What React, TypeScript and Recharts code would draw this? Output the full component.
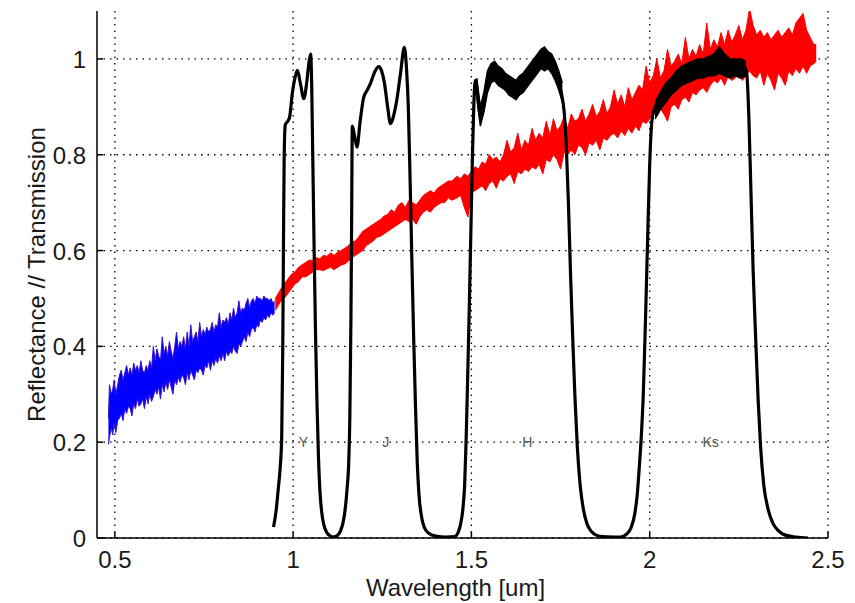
import React from 'react';
import { ComposedChart, Area, Line, XAxis, YAxis, CartesianGrid, ReferenceDot } from 'recharts';

const xTicks = [0.5, 1, 1.5, 2, 2.5];
const yTicks = [0, 0.2, 0.4, 0.6, 0.8, 1];

// [wavelength, low, high] — visible reflectance band (blue)
const blueSpectrum: [number, number, number][] = [
  [0.482, 0.195, 0.25], [0.485, 0.21, 0.32], [0.49, 0.23, 0.3], [0.494, 0.215, 0.31], [0.498, 0.24, 0.33],
  [0.503, 0.22, 0.3], [0.508, 0.245, 0.32], [0.513, 0.25, 0.34], [0.518, 0.26, 0.35], [0.523, 0.245, 0.33],
  [0.528, 0.27, 0.345], [0.533, 0.26, 0.36], [0.538, 0.275, 0.34], [0.543, 0.27, 0.355], [0.548, 0.255, 0.34],
  [0.553, 0.28, 0.365], [0.558, 0.27, 0.35], [0.563, 0.29, 0.36], [0.568, 0.275, 0.345], [0.573, 0.28, 0.37],
  [0.578, 0.29, 0.35], [0.583, 0.27, 0.345], [0.588, 0.295, 0.36], [0.593, 0.28, 0.35], [0.598, 0.3, 0.37],
  [0.603, 0.285, 0.355], [0.608, 0.295, 0.4], [0.613, 0.31, 0.37], [0.618, 0.3, 0.395], [0.623, 0.315, 0.38],
  [0.628, 0.29, 0.37], [0.633, 0.32, 0.42], [0.638, 0.305, 0.385], [0.643, 0.325, 0.4], [0.648, 0.31, 0.38],
  [0.653, 0.33, 0.41], [0.658, 0.315, 0.39], [0.663, 0.3, 0.375], [0.668, 0.33, 0.4], [0.673, 0.32, 0.43],
  [0.678, 0.335, 0.395], [0.683, 0.325, 0.41], [0.688, 0.34, 0.4], [0.693, 0.335, 0.42], [0.698, 0.32, 0.395],
  [0.703, 0.345, 0.43], [0.708, 0.33, 0.4], [0.713, 0.35, 0.445], [0.718, 0.34, 0.41], [0.723, 0.33, 0.42],
  [0.728, 0.35, 0.43], [0.733, 0.345, 0.41], [0.738, 0.355, 0.45], [0.743, 0.35, 0.42], [0.748, 0.34, 0.435],
  [0.753, 0.36, 0.425], [0.758, 0.355, 0.44], [0.763, 0.37, 0.43], [0.768, 0.35, 0.435], [0.773, 0.37, 0.45],
  [0.778, 0.36, 0.43], [0.783, 0.375, 0.445], [0.788, 0.365, 0.44], [0.793, 0.38, 0.47], [0.798, 0.37, 0.44],
  [0.803, 0.385, 0.455], [0.808, 0.37, 0.45], [0.813, 0.39, 0.46], [0.818, 0.38, 0.445], [0.823, 0.39, 0.47],
  [0.828, 0.385, 0.455], [0.833, 0.4, 0.48], [0.838, 0.39, 0.46], [0.843, 0.385, 0.47], [0.848, 0.405, 0.495],
  [0.853, 0.4, 0.47], [0.858, 0.41, 0.48], [0.863, 0.42, 0.475], [0.868, 0.41, 0.49], [0.873, 0.43, 0.5],
  [0.878, 0.42, 0.48], [0.883, 0.435, 0.495], [0.888, 0.44, 0.5], [0.893, 0.43, 0.49], [0.898, 0.445, 0.505],
  [0.903, 0.44, 0.5], [0.908, 0.455, 0.5], [0.913, 0.45, 0.495], [0.918, 0.46, 0.505], [0.923, 0.455, 0.5],
  [0.928, 0.465, 0.5], [0.933, 0.46, 0.495], [0.938, 0.47, 0.5], [0.943, 0.465, 0.49], [0.948, 0.47, 0.495],
];

// [wavelength, low, high] — near-infrared reflectance band (red)
const redSpectrum: [number, number, number][] = [
  [0.95, 0.475, 0.5], [0.958, 0.485, 0.51], [0.966, 0.495, 0.52], [0.975, 0.5, 0.53], [0.985, 0.51, 0.54],
  [0.995, 0.52, 0.55], [1.005, 0.53, 0.555], [1.015, 0.535, 0.565], [1.025, 0.545, 0.57], [1.035, 0.545, 0.575],
  [1.045, 0.55, 0.58], [1.055, 0.555, 0.58], [1.065, 0.56, 0.585], [1.075, 0.56, 0.583], [1.085, 0.558, 0.59],
  [1.095, 0.562, 0.588], [1.105, 0.565, 0.595], [1.115, 0.56, 0.59], [1.125, 0.565, 0.597], [1.135, 0.57, 0.6],
  [1.145, 0.572, 0.605], [1.155, 0.578, 0.61], [1.165, 0.585, 0.618], [1.175, 0.59, 0.62], [1.185, 0.595, 0.63],
  [1.195, 0.6, 0.64], [1.205, 0.61, 0.645], [1.215, 0.615, 0.65], [1.225, 0.62, 0.655], [1.235, 0.628, 0.66],
  [1.245, 0.63, 0.665], [1.255, 0.635, 0.672], [1.265, 0.64, 0.675], [1.275, 0.645, 0.685], [1.285, 0.65, 0.68],
  [1.295, 0.655, 0.695], [1.305, 0.66, 0.7], [1.315, 0.665, 0.69], [1.325, 0.66, 0.705], [1.335, 0.665, 0.7],
  [1.345, 0.655, 0.695], [1.355, 0.67, 0.705], [1.365, 0.68, 0.715], [1.375, 0.685, 0.72], [1.385, 0.68, 0.725],
  [1.395, 0.69, 0.72], [1.405, 0.695, 0.73], [1.415, 0.7, 0.735], [1.425, 0.7, 0.74], [1.435, 0.71, 0.745],
  [1.445, 0.705, 0.745], [1.46, 0.71, 0.755], [1.47, 0.715, 0.75], [1.48, 0.69, 0.76], [1.49, 0.67, 0.755],
  [1.5, 0.72, 0.765], [1.51, 0.725, 0.775], [1.52, 0.73, 0.77], [1.53, 0.735, 0.785], [1.54, 0.725, 0.78],
  [1.55, 0.74, 0.8], [1.56, 0.745, 0.79], [1.57, 0.73, 0.795], [1.58, 0.75, 0.785], [1.59, 0.745, 0.8],
  [1.6, 0.755, 0.83], [1.61, 0.76, 0.805], [1.62, 0.74, 0.815], [1.63, 0.765, 0.845], [1.64, 0.76, 0.81],
  [1.65, 0.77, 0.83], [1.66, 0.765, 0.82], [1.67, 0.775, 0.855], [1.68, 0.77, 0.83], [1.69, 0.78, 0.845],
  [1.7, 0.76, 0.835], [1.71, 0.79, 0.87], [1.72, 0.785, 0.84], [1.73, 0.8, 0.875], [1.74, 0.79, 0.85],
  [1.75, 0.77, 0.86], [1.76, 0.805, 0.88], [1.77, 0.8, 0.855], [1.78, 0.81, 0.885], [1.79, 0.8, 0.87],
  [1.8, 0.82, 0.875], [1.81, 0.815, 0.895], [1.82, 0.8, 0.87], [1.83, 0.825, 0.885], [1.84, 0.82, 0.905],
  [1.85, 0.83, 0.88], [1.86, 0.81, 0.89], [1.87, 0.835, 0.915], [1.88, 0.83, 0.885], [1.89, 0.84, 0.9],
  [1.9, 0.845, 0.935], [1.91, 0.835, 0.905], [1.92, 0.85, 0.925], [1.93, 0.84, 0.9], [1.94, 0.855, 0.94],
  [1.95, 0.845, 0.915], [1.96, 0.86, 0.93], [1.97, 0.85, 0.945], [1.98, 0.87, 0.935], [1.99, 0.865, 0.985],
  [2.0, 0.875, 0.95], [2.01, 0.89, 0.965], [2.02, 0.88, 1.0], [2.03, 0.895, 0.96], [2.04, 0.885, 0.975],
  [2.05, 0.87, 1.02], [2.06, 0.9, 0.985], [2.07, 0.905, 0.995], [2.08, 0.895, 1.01], [2.09, 0.915, 0.99],
  [2.1, 0.92, 1.045], [2.11, 0.91, 1.0], [2.12, 0.93, 1.02], [2.13, 0.925, 1.005], [2.14, 0.935, 1.03],
  [2.15, 0.94, 1.01], [2.16, 0.93, 1.075], [2.17, 0.945, 1.02], [2.18, 0.955, 1.04], [2.19, 0.95, 1.025],
  [2.2, 0.96, 1.055], [2.21, 0.945, 1.03], [2.22, 0.965, 1.06], [2.23, 0.955, 1.035], [2.24, 0.96, 1.05],
  [2.25, 0.97, 1.07], [2.26, 0.955, 1.04], [2.27, 0.965, 1.06], [2.28, 0.975, 1.105], [2.29, 0.965, 1.07],
  [2.3, 0.96, 1.05], [2.31, 0.975, 1.06], [2.32, 0.945, 1.045], [2.33, 0.97, 1.055], [2.34, 0.955, 1.04],
  [2.35, 0.935, 1.05], [2.36, 0.97, 1.06], [2.37, 0.96, 1.045], [2.38, 0.945, 1.055], [2.39, 0.975, 1.065],
  [2.4, 0.965, 1.05], [2.41, 0.98, 1.075], [2.42, 0.97, 1.085], [2.43, 0.985, 1.095], [2.44, 0.97, 1.06],
  [2.45, 0.985, 1.045], [2.46, 0.99, 1.03], [2.467, 0.995, 1.03],
];

// [wavelength, transmission] — filter curves
const filterYCurve: [number, number][] = [
  [0.945, 0.023], [0.952, 0.055], [0.958, 0.1], [0.964, 0.15], [0.968, 0.21], [0.971, 0.4], [0.973, 0.62],
  [0.975, 0.8], [0.978, 0.862], [0.985, 0.87], [0.99, 0.878], [0.998, 0.93], [1.005, 0.96], [1.012, 0.976],
  [1.02, 0.95], [1.03, 0.917], [1.038, 0.95], [1.044, 0.99], [1.049, 1.01], [1.052, 0.95], [1.055, 0.8],
  [1.059, 0.6], [1.063, 0.42], [1.067, 0.28], [1.071, 0.17], [1.075, 0.1], [1.08, 0.055], [1.086, 0.028],
  [1.094, 0.012], [1.105, 0.004], [1.115, 0.002],
];
const filterJCurve: [number, number][] = [
  [1.115, 0.002], [1.125, 0.006], [1.133, 0.015], [1.14, 0.032], [1.146, 0.06], [1.151, 0.1], [1.156, 0.16],
  [1.159, 0.25], [1.162, 0.45], [1.164, 0.65], [1.166, 0.86], [1.172, 0.84], [1.179, 0.816], [1.188, 0.87],
  [1.198, 0.92], [1.208, 0.935], [1.217, 0.949], [1.23, 0.975], [1.24, 0.984], [1.248, 0.975], [1.256, 0.95],
  [1.265, 0.9], [1.273, 0.865], [1.283, 0.885], [1.292, 0.92], [1.301, 0.969], [1.312, 1.024], [1.318, 0.98],
  [1.323, 0.9], [1.328, 0.75], [1.333, 0.58], [1.338, 0.42], [1.343, 0.28], [1.348, 0.16], [1.353, 0.09],
  [1.36, 0.045], [1.368, 0.022], [1.38, 0.01], [1.4, 0.004], [1.43, 0.002], [1.455, 0.003],
];
const filterHCurve: [number, number][] = [
  [1.455, 0.003], [1.463, 0.012], [1.47, 0.03], [1.476, 0.06], [1.481, 0.11], [1.485, 0.2], [1.489, 0.32],
  [1.494, 0.48], [1.499, 0.66], [1.503, 0.8], [1.507, 0.91], [1.511, 0.955], [1.518, 0.92], [1.525, 0.88],
  [1.532, 0.89], [1.54, 0.93], [1.55, 0.965], [1.565, 0.975], [1.58, 0.965], [1.595, 0.952], [1.61, 0.94],
  [1.625, 0.935], [1.64, 0.945], [1.655, 0.96], [1.67, 0.975], [1.685, 0.99], [1.7, 1.0], [1.715, 0.998],
  [1.728, 0.99], [1.74, 0.965], [1.752, 0.93], [1.76, 0.89], [1.766, 0.82], [1.772, 0.7], [1.778, 0.55],
  [1.784, 0.42], [1.79, 0.3], [1.797, 0.19], [1.805, 0.11], [1.814, 0.06], [1.824, 0.03], [1.836, 0.014],
  [1.85, 0.006], [1.87, 0.003], [1.92, 0.002],
];
const filterKsCurve: [number, number][] = [
  [1.92, 0.002], [1.935, 0.008], [1.948, 0.022], [1.958, 0.05], [1.965, 0.09], [1.971, 0.15], [1.977, 0.22],
  [1.982, 0.3], [1.988, 0.45], [1.994, 0.62], [2.0, 0.78], [2.006, 0.87], [2.012, 0.893], [2.025, 0.912],
  [2.04, 0.93], [2.055, 0.943], [2.075, 0.955], [2.095, 0.967], [2.12, 0.975], [2.145, 0.98], [2.17, 0.985],
  [2.197, 0.995], [2.22, 0.99], [2.245, 0.983], [2.265, 0.985], [2.272, 0.97], [2.278, 0.88], [2.284, 0.72],
  [2.29, 0.56], [2.297, 0.42], [2.304, 0.29], [2.311, 0.19], [2.32, 0.11], [2.332, 0.06], [2.346, 0.03],
  [2.36, 0.016], [2.38, 0.006], [2.41, 0.002], [2.444, 0.0],
];

// [wavelength, low, high] — measurement scatter on the H and Ks passbands
const filterHNoise: [number, number, number][] = [
  [1.515, 0.92, 0.96], [1.525, 0.86, 0.9], [1.535, 0.89, 0.93], [1.545, 0.93, 0.975], [1.555, 0.95, 0.99],
  [1.565, 0.955, 0.995], [1.575, 0.945, 0.985], [1.585, 0.94, 0.98], [1.595, 0.935, 0.97], [1.605, 0.925, 0.965],
  [1.615, 0.92, 0.96], [1.625, 0.915, 0.955], [1.635, 0.925, 0.965], [1.645, 0.93, 0.97], [1.655, 0.94, 0.98],
  [1.665, 0.95, 0.99], [1.675, 0.96, 1.0], [1.685, 0.97, 1.01], [1.695, 0.98, 1.02], [1.705, 0.975, 1.025],
  [1.715, 0.98, 1.015], [1.725, 0.97, 1.01], [1.735, 0.955, 0.995], [1.745, 0.935, 0.975], [1.755, 0.91, 0.95],
];
const filterKsNoise: [number, number, number][] = [
  [2.015, 0.875, 0.91], [2.03, 0.895, 0.93], [2.045, 0.91, 0.95], [2.06, 0.925, 0.96], [2.075, 0.935, 0.975],
  [2.09, 0.945, 0.985], [2.105, 0.95, 0.99], [2.12, 0.955, 0.995], [2.135, 0.96, 1.0], [2.15, 0.96, 1.0],
  [2.165, 0.965, 1.005], [2.18, 0.965, 1.01], [2.195, 0.97, 1.025], [2.21, 0.965, 1.01], [2.225, 0.96, 1.0],
  [2.24, 0.965, 1.0], [2.255, 0.96, 1.0], [2.27, 0.965, 0.995],
];

const filterNames = ['Y', 'J', 'H', 'Ks'];
const filterLabelX = [1.029, 1.26, 1.657, 2.171];
const filterLabelY = 0.2;

const toBand = (rows: [number, number, number][]) => rows.map(([x, lo, hi]) => ({ x, range: [lo, hi] }));
const toLine = (rows: [number, number][]) => rows.map(([x, y]) => ({ x, y }));

const FONT = 'Liberation Sans, Arial, Helvetica, sans-serif';
const TEXT = '#1a1a1a';

const BottomTick = (p: any) => (
  <g>
    <line x1={p.x} x2={p.x} y1={p.y} y2={p.y - 6} stroke="#000" strokeWidth={1.5} />
    <text x={p.x} y={p.y + 30} textAnchor="middle" fontSize={24} fill={TEXT} fontFamily={FONT}>
      {p.payload.value}
    </text>
  </g>
);
const TopTick = (p: any) => (
  <line x1={p.x} x2={p.x} y1={p.y} y2={p.y + 6} stroke="#000" strokeWidth={1.5} />
);
const LeftTick = (p: any) => (
  <g>
    <line x1={p.x} x2={p.x + 6} y1={p.y} y2={p.y} stroke="#000" strokeWidth={1.5} />
    <text x={p.x - 11} y={p.y + 9} textAnchor="end" fontSize={24} fill={TEXT} fontFamily={FONT}>
      {p.payload.value}
    </text>
  </g>
);
const RightTick = (p: any) => (
  <line x1={p.x} x2={p.x - 6} y1={p.y} y2={p.y} stroke="#000" strokeWidth={1.5} />
);

const lineProps = {
  type: 'monotone' as const,
  stroke: '#000',
  strokeWidth: 3.2,
  dot: false,
  activeDot: false,
  isAnimationActive: false,
};

export default function App() {
  return (
    <div style={{ position: 'absolute', left: 0, top: 0, background: '#fff' }}>
      <ComposedChart width={855} height={603} margin={{ top: 11, right: 27, bottom: 0, left: 0 }}>
        <CartesianGrid stroke="#000" strokeWidth={1.3} strokeDasharray="1.5 5" verticalValues={xTicks} horizontalValues={yTicks} />
        <XAxis
          type="number"
          dataKey="x"
          domain={[0.45, 2.5]}
          ticks={xTicks}
          allowDataOverflow
          height={65}
          tickSize={0}
          tickMargin={0}
          tickLine={false}
          axisLine={{ stroke: '#000', strokeWidth: 1.5 }}
          tick={BottomTick}
          interval={0}
          label={{
            content: (lp: any) => {
              const vb = lp.viewBox || { x: 97, y: 538, width: 731, height: 65 };
              return (
                <text x={vb.x + vb.width / 2 - 7} y={vb.y + 58} textAnchor="middle" fontSize={24} fill={TEXT} fontFamily={FONT}>
                  Wavelength [um]
                </text>
              );
            },
          }}
        />
        <XAxis
          xAxisId="top"
          orientation="top"
          type="number"
          dataKey="x"
          domain={[0.45, 2.5]}
          ticks={xTicks}
          allowDataOverflow
          height={0}
          tickSize={0}
          tickMargin={0}
          tickLine={false}
          axisLine={{ stroke: '#000', strokeWidth: 1.5 }}
          tick={TopTick}
          interval={0}
        />
        <YAxis
          type="number"
          domain={[0, 1.1]}
          ticks={yTicks}
          allowDataOverflow
          width={97}
          tickSize={0}
          tickMargin={0}
          tickLine={false}
          axisLine={{ stroke: '#000', strokeWidth: 1.5 }}
          tick={LeftTick}
          interval={0}
          label={{
            content: (lp: any) => {
              const vb = lp.viewBox || { x: 0, y: 11, width: 97, height: 527 };
              const cx = vb.x + 36;
              const cy = vb.y + vb.height / 2;
              return (
                <text x={cx} y={cy} transform={`rotate(-90 ${cx} ${cy})`} textAnchor="middle" dominantBaseline="central" fontSize={24} fill={TEXT} fontFamily={FONT}>
                  Reflectance // Transmission
                </text>
              );
            },
          }}
        />
        <YAxis
          yAxisId="right"
          orientation="right"
          type="number"
          domain={[0, 1.1]}
          ticks={yTicks}
          allowDataOverflow
          width={0}
          tickSize={0}
          tickMargin={0}
          tickLine={false}
          axisLine={{ stroke: '#000', strokeWidth: 1.5 }}
          tick={RightTick}
          interval={0}
        />
        <Area data={toBand(blueSpectrum)} dataKey="range" type="linear" fill="#0000ff" fillOpacity={1} stroke="#3a10d0" strokeWidth={1} isAnimationActive={false} dot={false} activeDot={false} />
        <Area data={toBand(redSpectrum)} dataKey="range" type="linear" fill="#ff0000" fillOpacity={1} stroke="#ff0000" strokeWidth={1} isAnimationActive={false} dot={false} activeDot={false} />
        <Area data={toBand(filterHNoise)} dataKey="range" type="linear" fill="#000" fillOpacity={1} stroke="#000" strokeWidth={1.5} isAnimationActive={false} dot={false} activeDot={false} />
        <Area data={toBand(filterKsNoise)} dataKey="range" type="linear" fill="#000" fillOpacity={1} stroke="#000" strokeWidth={1.5} isAnimationActive={false} dot={false} activeDot={false} />
        <Line data={toLine(filterYCurve)} dataKey="y" {...lineProps} />
        <Line data={toLine(filterJCurve)} dataKey="y" {...lineProps} />
        <Line data={toLine(filterHCurve)} dataKey="y" {...lineProps} />
        <Line data={toLine(filterKsCurve)} dataKey="y" {...lineProps} />
        {filterNames.map((name, i) => (
          <ReferenceDot
            key={name}
            x={filterLabelX[i]}
            y={filterLabelY}
            r={0}
            fill="none"
            stroke="none"
            label={{ value: name, position: 'center', fill: '#555', fontSize: 14, fontFamily: FONT }}
          />
        ))}
      </ComposedChart>
    </div>
  );
}
